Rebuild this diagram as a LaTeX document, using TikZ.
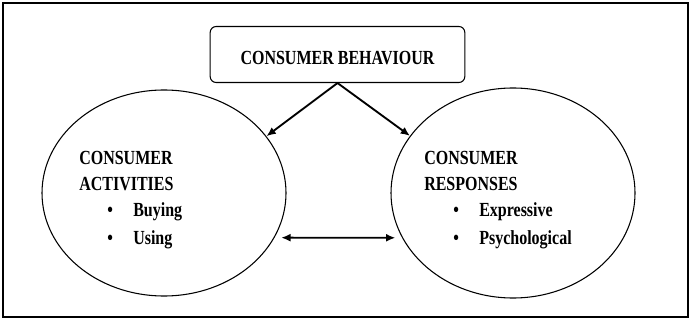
\documentclass[tikz,border=0pt]{standalone}
\usepackage{fontspec}
\setmainfont[FakeStretch=0.8]{Liberation Serif}
\usetikzlibrary{arrows.meta, positioning, shapes.geometric}

\newcommand{\itm}[1]{\makebox[19.5pt][l]{\textbullet}#1}

\begin{document}
\begin{tikzpicture}[x=0.75pt, y=-0.75pt,
  titlebox/.style={rectangle, draw, rounded corners=4.5pt, line width=0.8pt, minimum width=191pt, minimum height=42pt, text height=15.5pt, text depth=0pt, font=\bfseries\fontsize{15}{17}\selectfont},
  bubble/.style={ellipse, draw, line width=0.8pt, inner sep=0pt},
  heading/.style={anchor=west, inner sep=0pt, align=left, font=\bfseries\fontsize{15}{19.5}\selectfont},
  itemlist/.style={anchor=west, inner sep=0pt, align=left, font=\bfseries\fontsize{15}{21}\selectfont},
  arrow/.style={-{Latex[length=7pt, width=6pt]}, line width=1.4pt},
  dblarrow/.style={{Latex[length=7pt, width=6pt]}-{Latex[length=7pt, width=6pt]}, line width=1.4pt, shorten >=5pt, shorten <=5pt}]

\useasboundingbox (0,0) rectangle (691,320);
\draw[line width=1.3pt] (3,3) rectangle (688,317);

\node[titlebox] (cb) at (337.5,54.5) {CONSUMER BEHAVIOUR};
\node[bubble, minimum width=183pt, minimum height=154.5pt] (act) at (164,193) {};
\node[bubble, minimum width=183pt, minimum height=157.5pt] (resp) at (513,193) {};

% left circle
\node[heading] (acthead) at (79,171) {CONSUMER\\ACTIVITIES};
\node[itemlist] (actlist) at (107,226) {\itm{Buying}\\\itm{Using}};

% right circle
\node[heading] (resphead) at (424,171) {CONSUMER\\RESPONSES};
\node[itemlist] (resplist) at (453,226) {\itm{Expressive}\\\itm{Psychological}};

\draw[arrow] (cb.south) -- (act.29);
\draw[arrow] (cb.south) -- (resp.151);
\draw[dblarrow] (act.-22) -- (resp.202);
\end{tikzpicture}
\end{document}
